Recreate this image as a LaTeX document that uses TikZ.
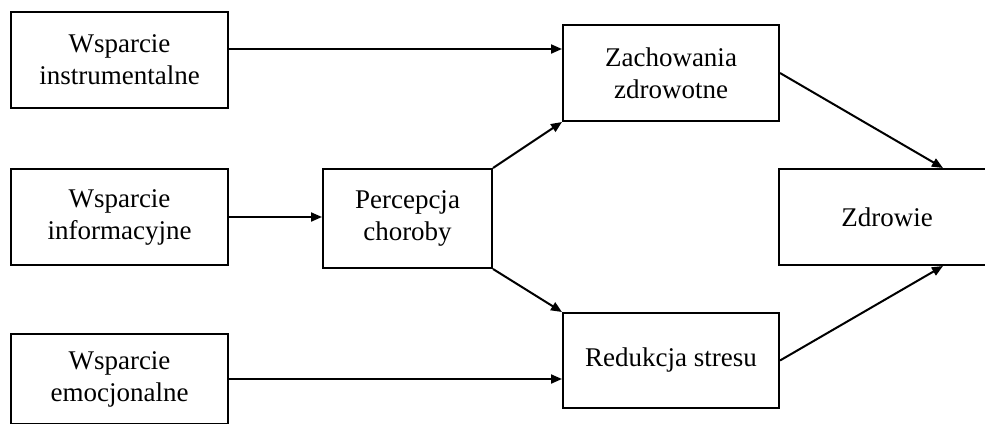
\documentclass[tikz,border=0pt]{standalone}
\usepackage{fontspec}
\setmainfont{Liberation Serif}
\usetikzlibrary{arrows.meta,calc}
\begin{document}
\begin{tikzpicture}[x=1pt,y=-1pt,
  box/.style={draw,line width=2pt,inner sep=0pt,align=center,
    font=\fontsize{27}{32}\selectfont},
  arr/.style={line width=2pt,-{Triangle[length=11pt,width=9pt]}}]
\useasboundingbox (0,0) rectangle (985,423);
\clip (0,0) rectangle (985,423);
\node[box,minimum width=217pt,minimum height=96pt] (b1) at (119.5,60) {Wsparcie\\instrumentalne};
\node[box,minimum width=217pt,minimum height=96pt] (b2) at (119.5,217) {Wsparcie\\informacyjne};
\node[box,minimum width=217pt,minimum height=90pt] (b3) at (119.5,379) {Wsparcie\\emocjonalne};
\node[box,minimum width=169pt,minimum height=99pt] (b4) at (407.5,218.5) {Percepcja\\choroby};
\node[box,minimum width=216pt,minimum height=96pt] (b5) at (671,73) {Zachowania\\zdrowotne};
\node[box,minimum width=216pt,minimum height=95pt] (b6) at (671,360.5) {Redukcja stresu};
\node[box,minimum width=216pt,minimum height=96pt] (b7) at (887,217) {Zdrowie};
\draw[arr] ([yshift=11pt]b1.east) -- ([yshift=11pt]b1.east -| b5.west);
\draw[arr] (b2.east) -- (b2.east -| b4.west);
\draw[arr] (b3.east) -- (b3.east -| b6.west);
\draw[arr] (b4.north east) -- (b5.south west);
\draw[arr] (b4.south east) -- (b6.north west);
\draw[arr] (b5.east) -- ([xshift=56pt]b7.north);
\draw[arr] (b6.east) -- ([xshift=56pt]b7.south);
\end{tikzpicture}
\end{document}
